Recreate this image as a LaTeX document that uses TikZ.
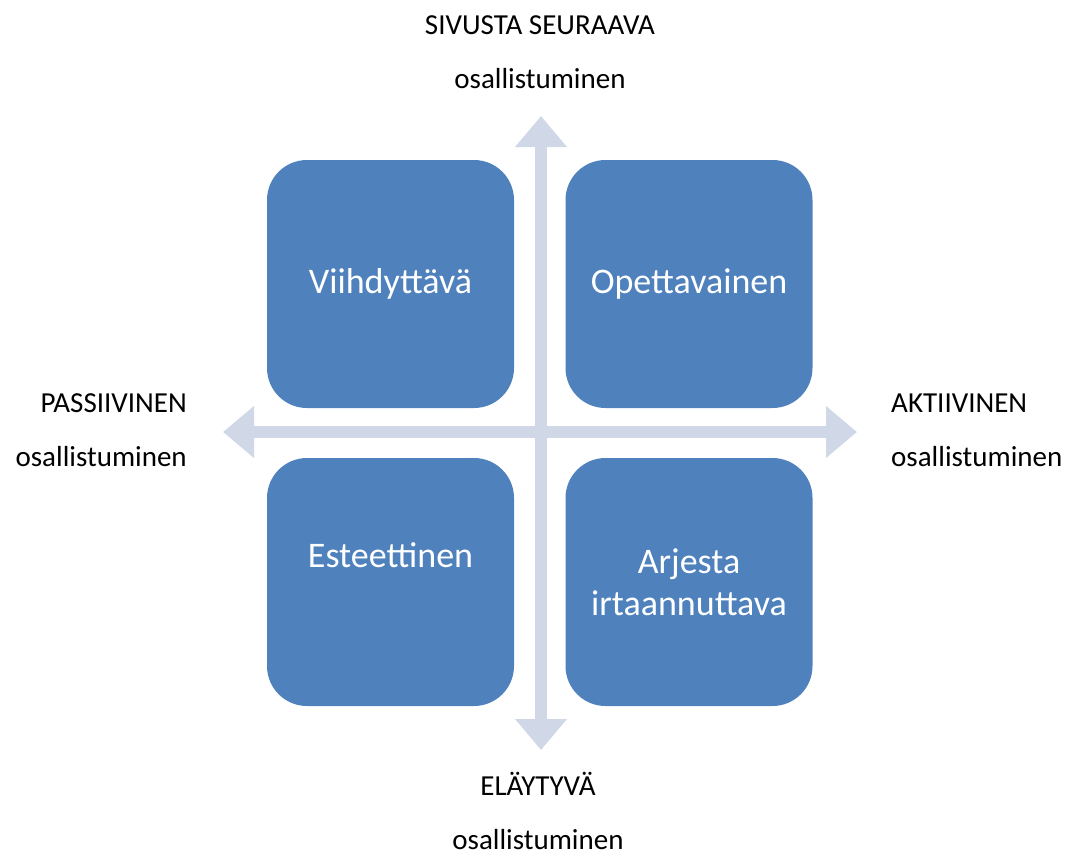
\documentclass[tikz,border=0pt]{standalone}
\usepackage{fontspec}
\setmainfont{Carlito}
\usetikzlibrary{arrows.meta}
\definecolor{boxblue}{HTML}{4F81BD}
\definecolor{axisgray}{HTML}{D0D8E8}
\begin{document}
\begin{tikzpicture}[x=1pt, y=-1pt,
    quad/.style={rectangle, rounded corners=40pt, fill=boxblue, text=white,
      minimum width=247pt, minimum height=248pt, inner sep=0pt, align=center,
      font=\fontsize{36}{42}\selectfont},
    axis/.style={draw=axisgray, line width=12pt,
      {Triangle[width=50pt, length=31pt]}-{Triangle[width=50pt, length=31pt]}},
    lbl/.style={font=\fontsize{29}{54}\selectfont, inner sep=0pt}]
      \useasboundingbox (0, 0) rectangle (1079, 854);

      \coordinate (left) at (223, 432);
      \coordinate (right) at (857, 432);
      \coordinate (top) at (541, 116);
      \coordinate (bottom) at (541, 750);

      \draw[axis] (left) -- (right);
      \draw[axis] (top) -- (bottom);

      \node[quad] (viihde) at (390.5, 284) {Viihdyttävä};
      \node[quad] (opetus) at (689, 284) {Opettavainen};
      \node[quad] (estetiikka) at (390.5, 582) {Esteettinen\\\strut};
      \node[quad] (arki) at (689, 582) {Arjesta\\irtaannuttava};

      \node[lbl, align=center] (seuraava) at (540, 52) {SIVUSTA SEURAAVA\\osallistuminen};
      \node[lbl, align=center] (elaytyva) at (538, 811) {ELÄYTYVÄ\\osallistuminen};
      \node[lbl, align=right, anchor=east] (passiivinen) at (187, 430) {PASSIIVINEN\\osallistuminen};
      \node[lbl, align=left, anchor=west] (aktiivinen) at (891, 430) {AKTIIVINEN\\osallistuminen};
    \end{tikzpicture}
\end{document}
